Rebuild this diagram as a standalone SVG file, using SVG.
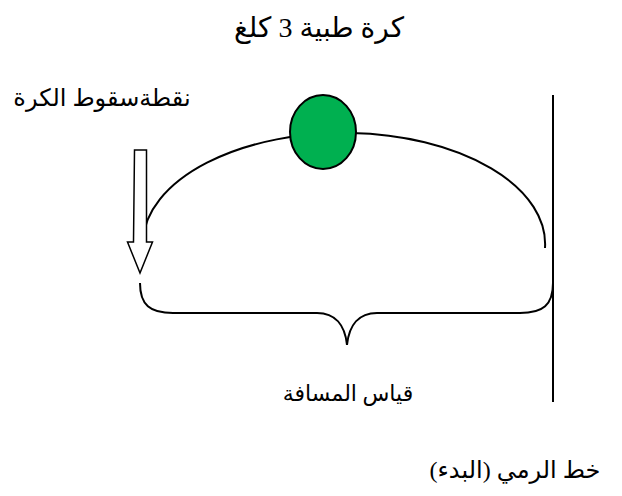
<svg xmlns="http://www.w3.org/2000/svg" width="622" height="496" viewBox="0 0 622 496">
<style>
.ln{fill:none;stroke:#000;stroke-width:2}
.t{font-family:"Liberation Serif","DejaVu Sans",serif;fill:#000;direction:rtl;text-anchor:middle}
</style>
<rect width="622" height="496" fill="#fff"/>
<g id="connectors">
<path id="trajectory" class="ln" d="M143,240 A201,111 0 0 1 545,248"/>
<path id="brace" class="ln" d="M140,283 C140,305 150,313 173,313 L317,313 C335,313 345,325 347,345 C349,325 359,313 377,313 L520,313 C543,313 553,305 553,283"/>
</g>
<g id="ball"><ellipse cx="323" cy="132" rx="33" ry="37" fill="#00b050" stroke="#000" stroke-width="2"/></g>
<g id="throw-line"><line class="ln" x1="553" y1="95" x2="553" y2="402"/></g>
<g id="landing-arrow"><polygon points="134.5,150 146.5,150 146.5,242 152.5,242 140,273 127.5,242 133.5,242" fill="#fff" stroke="#000" stroke-width="1.5"/></g>
<g id="labels">
<text class="t" x="319" y="37" font-size="28">كرة طبية 3 كلغ</text>
<text class="t" x="102" y="106" font-size="24">نقطةسقوط الكرة</text>
<text class="t" x="348" y="401" font-size="22">قياس المسافة</text>
<text class="t" x="515" y="478" font-size="24">خط الرمي (البدء)</text>
</g>
</svg>
